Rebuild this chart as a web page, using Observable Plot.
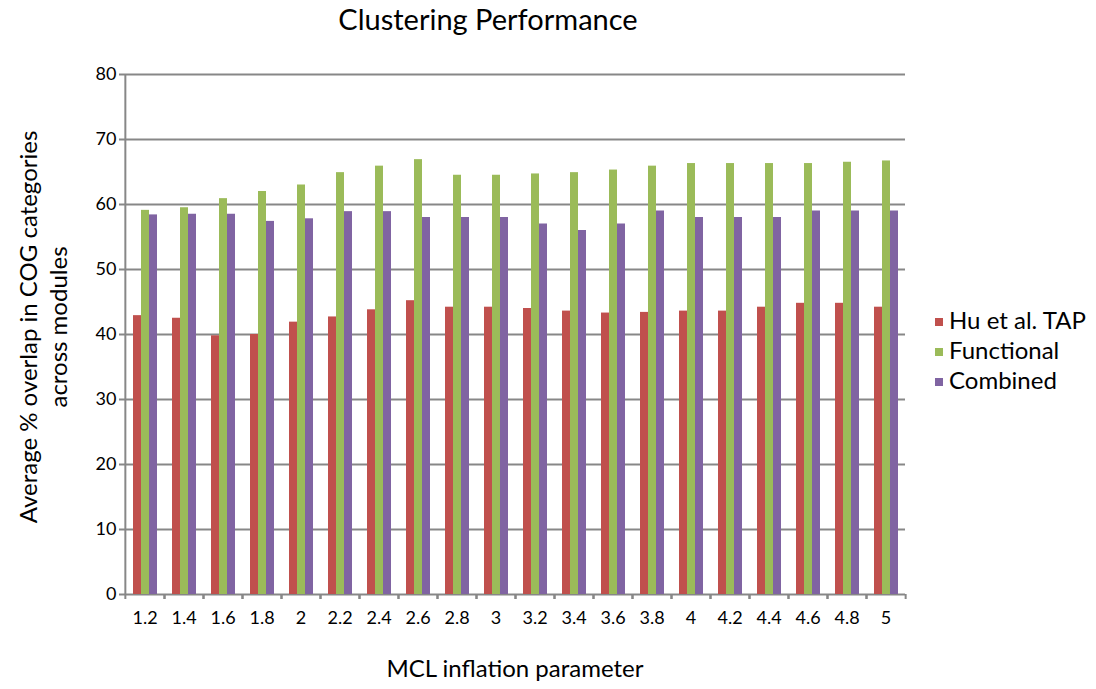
<!DOCTYPE html>
<html><head><meta charset="utf-8">
<script src="https://cdn.jsdelivr.net/npm/d3@7"></script>
<script src="https://cdn.jsdelivr.net/npm/@observablehq/plot@0.6"></script>
<style>
body{margin:0;background:#fff;font-family:Lato,"Open Sans",sans-serif;color:#000;}
#wrap{position:relative;width:1096px;height:689px;overflow:hidden;}
#chart{position:absolute;left:0;top:0;}
#title{position:absolute;left:0;width:976px;top:1px;text-align:center;font-size:29px;}
#ylabel{position:absolute;left:43px;top:327px;width:560px;transform:translate(-50%,-50%) rotate(-90deg);text-align:center;font-size:24px;line-height:30px;}
#xlabel{position:absolute;left:122px;width:786px;top:653px;text-align:center;font-size:24px;}
#legend{position:absolute;left:935px;top:305px;font-size:24px;line-height:30px;}
#legend .sw{display:inline-block;width:8px;height:8px;margin-right:6px;vertical-align:middle;position:relative;top:-1px;}
</style></head>
<body><div id="wrap"><div id="chart"></div><div id="title">Clustering Performance</div>
<div id="ylabel">Average % overlap in COG categories<br>across modules</div>
<div id="xlabel">MCL inflation parameter</div><div id="legend"></div></div>
<script>
const params = ["1.2","1.4","1.6","1.8","2","2.2","2.4","2.6","2.8","3","3.2","3.4","3.6","3.8","4","4.2","4.4","4.6","4.8","5"];
const seriesNames = ["Hu et al. TAP","Functional","Combined"];
const huTAP =      [42.9,42.5,39.8,40.0,41.9,42.7,43.8,45.2,44.2,44.2,44.0,43.6,43.3,43.4,43.6,43.6,44.2,44.8,44.8,44.2];
const functional = [59.1,59.5,60.9,62.0,63.0,64.9,65.9,66.9,64.5,64.5,64.7,64.9,65.3,65.9,66.3,66.3,66.3,66.3,66.5,66.7];
const combined =   [58.4,58.5,58.5,57.4,57.8,58.9,58.9,58.0,58.0,58.0,57.0,56.0,57.0,59.0,58.0,58.0,58.0,59.0,59.0,59.0];
const colors = ["#C0504D","#9BBB59","#8064A2"];
const yTicks = [0,10,20,30,40,50,60,70,80];

const seriesValues = [huTAP, functional, combined];
const data = [];
params.forEach((p, i) => seriesNames.forEach((s, j) => data.push({param: p, series: s, value: seriesValues[j][i]})));

const W = 1096, H = 689, mL = 122, mR = 188, mT = 74, mB = 95;
const step = (W - mL - mR) / params.length;
const gray = "#878787";

const chart = Plot.plot({
  width: W, height: H,
  marginLeft: mL, marginRight: mR, marginTop: mT, marginBottom: mB,
  style: {fontFamily: "Lato, 'Open Sans', sans-serif", fontSize: "18px", color: "#000", background: "#fff"},
  fx: {domain: params, padding: 0, label: null, axis: null},
  x: {domain: seriesNames, paddingInner: 0, paddingOuter: 0.75, axis: null},
  y: {domain: [0, 80], label: null},
  color: {domain: seriesNames, range: colors},
  marks: [
    Plot.gridY(yTicks, {stroke: gray, strokeOpacity: 1, strokeWidth: 2}),
    Plot.barY(data, {fx: "param", x: "series", y: "value", fill: "series"}),
    Plot.ruleX([params[0]], {fx: d => d, x: null, y1: 0, y2: 80, dx: -step / 2, stroke: gray, strokeWidth: 2}),
    Plot.axisY(yTicks, {tickSize: 6, tickPadding: 3, stroke: gray, strokeWidth: 2, fontSize: 18, label: null}),
    Plot.axisFx({anchor: "bottom", tickSize: 0, tickPadding: 17, fontSize: 18, label: null}),
    Plot.axisFx({anchor: "bottom", tickSize: 5, tickFormat: () => "", dx: -step / 2, stroke: gray, strokeWidth: 2, label: null}),
    Plot.axisFx([params[params.length - 1]], {anchor: "bottom", tickSize: 5, tickFormat: () => "", dx: step / 2, stroke: gray, strokeWidth: 2, label: null})
  ]
});
document.getElementById("chart").appendChild(chart);

const legend = document.getElementById("legend");
seriesNames.forEach((s, j) => {
  const row = document.createElement("div");
  const sw = document.createElement("span");
  sw.className = "sw"; sw.style.background = colors[j];
  row.appendChild(sw);
  row.appendChild(document.createTextNode(s));
  legend.appendChild(row);
});
</script></body></html>
